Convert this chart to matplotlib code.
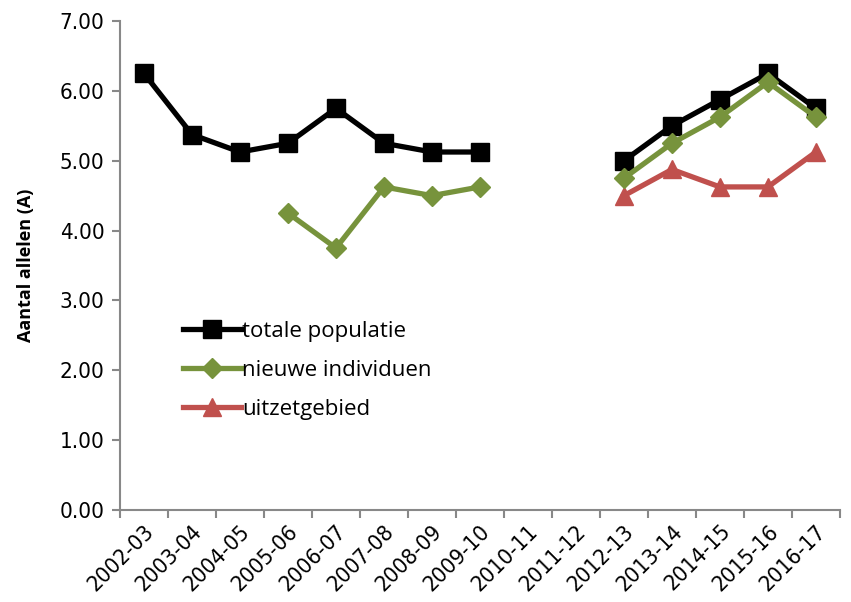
import numpy as np
import matplotlib
matplotlib.use('Agg')
import matplotlib.pyplot as plt

seasons = ['2002-03', '2003-04', '2004-05', '2005-06', '2006-07', '2007-08', '2008-09',
           '2009-10', '2010-11', '2011-12', '2012-13', '2013-14', '2014-15', '2015-16', '2016-17']
nan = np.nan
totale = [6.25, 5.375, 5.125, 5.25, 5.75, 5.25, 5.125, 5.125, nan, nan,
          5.0, 5.5, 5.875, 6.25, 5.75]
nieuwe = [nan, nan, nan, 4.25, 3.75, 4.625, 4.5, 4.625, nan, nan,
          4.75, 5.25, 5.625, 6.125, 5.625]
uitzet = [nan, nan, nan, nan, nan, nan, nan, nan, nan, nan,
          4.5, 4.875, 4.625, 4.625, 5.125]

plt.rcParams['font.family'] = ['Open Sans', 'DejaVu Sans']
tick_font = dict(family='DejaVu Sans', stretch='condensed', size=16)

fig = plt.figure(figsize=(8.51, 6.02), dpi=100)
ax = fig.add_axes([0.141, 0.153, 0.846, 0.812])

x = np.arange(len(seasons))
ax.plot(x, totale, color='black', lw=3.8, marker='s', ms=13.5, label='totale populatie', zorder=3)
ax.plot(x, nieuwe, color='#77933C', lw=3.8, marker='D', ms=10, label='nieuwe individuen', zorder=4)
ax.plot(x, uitzet, color='#C0504D', lw=3.8, marker='^', ms=13, label='uitzetgebied', zorder=2)

ax.set_xlim(-0.5, len(seasons) - 0.5)
ax.set_ylim(0, 7)
ax.set_yticks(np.arange(0, 8))
ax.set_yticklabels(['%.2f' % v for v in range(8)], **tick_font)

# ticks at category boundaries, labels centred on categories
ax.set_xticks(np.arange(-0.5, len(seasons)), minor=False)
ax.set_xticklabels([])
ax.set_xticks(x, minor=True)
ax.set_xticklabels(seasons, minor=True, rotation=45, ha='right', rotation_mode='anchor',
                   **tick_font)
ax.tick_params(axis='x', which='minor', length=0, pad=8)
ax.tick_params(axis='x', which='major', length=6, color='#888888', width=1.5)
ax.tick_params(axis='y', length=6, color='#888888', width=1.5, pad=5)

for s in ['top', 'right']:
    ax.spines[s].set_visible(False)
for s in ['left', 'bottom']:
    ax.spines[s].set_color('#888888')
    ax.spines[s].set_linewidth(1.5)

ax.set_ylabel('Aantal allelen (A)', fontsize=13, fontweight='bold', labelpad=18)

ax.legend(loc='upper left', bbox_to_anchor=(0.075, 0.405), frameon=False, fontsize=16,
          handlelength=2.6, handletextpad=0.05, labelspacing=0.82, borderaxespad=0)

fig.savefig('out.png', dpi=100)
